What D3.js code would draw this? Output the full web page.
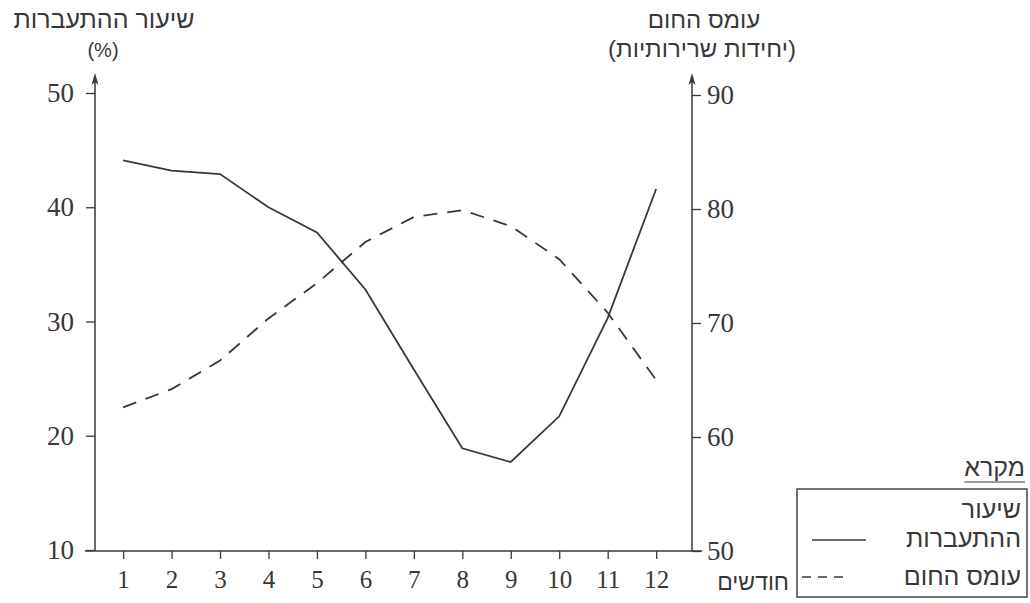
<!DOCTYPE html>
<html>
<head>
<meta charset="utf-8">
<script src="https://cdn.jsdelivr.net/npm/d3@7"></script>
<style>
  body { margin: 0; background: #fff; }
  svg { display: block; }
  .tick text { font-family: "Liberation Serif", "DejaVu Serif", serif; }
</style>
</head>
<body>
<div id="chart"></div>
<script>
// months on the x axis
const months = [1, 2, 3, 4, 5, 6, 7, 8, 9, 10, 11, 12];
// conception rate (%), left axis
const conceptionRate = [44.1, 43.2, 42.9, 40.0, 37.8, 32.8, 25.8, 18.9, 17.7, 21.7, 30.3, 41.6];
// heat load (arbitrary units), right axis
const heatLoad = [62.6, 64.2, 66.7, 70.4, 73.5, 77.1, 79.3, 79.9, 78.5, 75.6, 70.9, 65.0];
const leftTicks = [10, 20, 30, 40, 50];
const rightTicks = [50, 60, 70, 80, 90];

const W = 1030, H = 603;
const ink = "#383838";
const hebFont = "'Liberation Sans', Arial, sans-serif";

const svg = d3.select("#chart").append("svg")
    .attr("width", W)
    .attr("height", H);

const x = d3.scaleLinear().domain([0.42, 12.74]).range([95, 692]);
const yL = d3.scaleLinear().domain([10, 50]).range([550, 93]);
const yR = d3.scaleLinear().domain([50, 90]).range([551, 95]);

const x0 = x(0.42), x1 = x(12.74), yBase = yL(10) + 1;

// axes
const leftAxis = d3.axisLeft(yL).tickValues(leftTicks).tickSize(9).tickPadding(12);
const rightAxis = d3.axisRight(yR).tickValues(rightTicks).tickSize(9).tickPadding(6);
const bottomAxis = d3.axisBottom(x).tickValues(months).tickSize(8).tickPadding(11);

function styleAxis(g) {
    g.select(".domain").remove();
    g.selectAll(".tick line").attr("stroke", ink).attr("stroke-width", 1.3);
    g.selectAll(".tick text").attr("fill", ink).attr("font-size", 27);
}

svg.append("g").attr("transform", `translate(${x0},0)`).call(leftAxis).call(styleAxis);
svg.append("g").attr("transform", `translate(${x1},0)`).call(rightAxis).call(styleAxis);
const xg = svg.append("g").attr("transform", `translate(0,${yBase})`).call(bottomAxis).call(styleAxis);
xg.selectAll(".tick text").attr("font-size", 25);

// vertical axes with arrow tips
[x0, x1].forEach(ax => {
    svg.append("line")
        .attr("x1", ax).attr("x2", ax)
        .attr("y1", yBase).attr("y2", 80)
        .attr("stroke", ink).attr("stroke-width", 1.5);
    svg.append("path")
        .attr("d", `M${ax},73 L${ax - 3.5},85 L${ax},82 L${ax + 3.5},85 Z`)
        .attr("fill", ink);
});
svg.append("line")
    .attr("x1", x0 - 10).attr("x2", x1 + 10)
    .attr("y1", yBase).attr("y2", yBase)
    .attr("stroke", ink).attr("stroke-width", 1.5);

// series
const lineL = d3.line().x((d, i) => x(months[i])).y(d => yL(d));
const lineR = d3.line().x((d, i) => x(months[i])).y(d => yR(d));

svg.append("path")
    .datum(conceptionRate)
    .attr("d", lineL)
    .attr("fill", "none")
    .attr("stroke", ink)
    .attr("stroke-width", 1.8);

svg.append("path")
    .datum(heatLoad)
    .attr("d", lineR)
    .attr("fill", "none")
    .attr("stroke", ink)
    .attr("stroke-width", 1.8)
    .attr("stroke-dasharray", "14,10");

// hebrew text helper
function heb(txt, px, py, size, anchor) {
    return svg.append("text")
        .attr("x", px).attr("y", py)
        .attr("direction", "rtl")
        .attr("text-anchor", anchor || "middle")
        .attr("font-family", hebFont)
        .attr("font-size", size)
        .attr("fill", ink)
        .text(txt);
}

heb("שיעור ההתעברות", 104, 28, 25);
heb("(%)", 103, 57, 20);
heb("עומס החום", 704, 28, 24);
heb("(יחידות שרירותיות)", 702, 57, 24);
heb("חודשים", 789, 590, 23, "start");

// legend
const key = heb("מקרא", 1025, 476, 25, "start");
const kb = key.node().getBBox();
svg.append("line")
    .attr("x1", kb.x).attr("x2", kb.x + kb.width)
    .attr("y1", 482).attr("y2", 482)
    .attr("stroke", ink).attr("stroke-width", 1.2);

svg.append("rect")
    .attr("x", 797).attr("y", 489)
    .attr("width", 230).attr("height", 108)
    .attr("fill", "none")
    .attr("stroke", ink)
    .attr("stroke-width", 1.4);

heb("שיעור", 1021, 518, 25, "start");
heb("ההתעברות", 1021, 547, 25, "start");
heb("עומס החום", 1021, 585, 25, "start");

svg.append("line")
    .attr("x1", 812).attr("x2", 866)
    .attr("y1", 540).attr("y2", 540)
    .attr("stroke", ink).attr("stroke-width", 1.6);
svg.append("line")
    .attr("x1", 802).attr("x2", 850)
    .attr("y1", 577).attr("y2", 577)
    .attr("stroke", ink).attr("stroke-width", 1.6)
    .attr("stroke-dasharray", "9,7");
</script>
</body>
</html>
